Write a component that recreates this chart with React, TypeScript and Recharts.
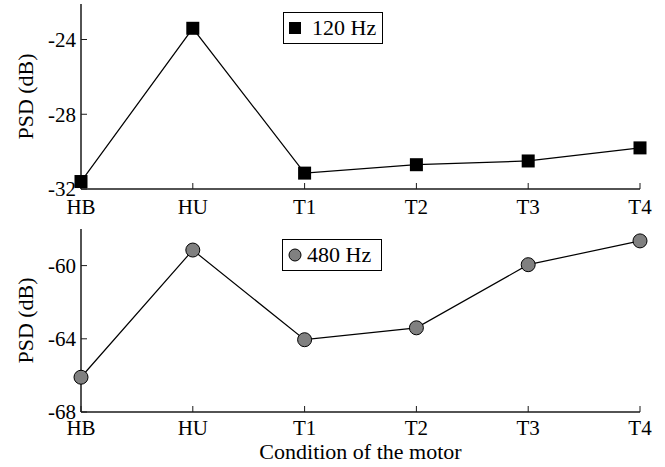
import { LineChart, Line, XAxis, YAxis, Legend } from 'recharts';

// motor condition vs PSD at the two harmonics
const conditions = ['HB', 'HU', 'T1', 'T2', 'T3', 'T4'];
const psd120 = [-31.6, -23.4, -31.15, -30.7, -30.5, -29.8];
const psd480 = [-66.1, -59.15, -64.05, -63.4, -59.95, -58.65];
const ticks120 = [-32, -28, -24];
const ticks480 = [-68, -64, -60];

const FONT = 'Liberation Serif';
const AX = '#1a1a1a';

const data120 = conditions.map((c, i) => ({ cond: c, psd: psd120[i] }));
const data480 = conditions.map((c, i) => ({ cond: c, psd: psd480[i] }));

const XTick = (p: any) => (
  <text
    x={p.x}
    y={p.y}
    dy="0.71em"
    textAnchor="middle"
    fontSize={21}
    fill="#000"
    style={{ fontFamily: FONT }}
  >
    {p.payload.value}
  </text>
);

const YTick = (p: any) => (
  <text
    x={p.x}
    y={p.y}
    dy="0.35em"
    textAnchor="end"
    fontSize={21}
    fill="#000"
    style={{ fontFamily: FONT }}
  >
    {p.payload.value}
  </text>
);

const yLabel = (props: any) => {
  const vb = props.viewBox || {};
  const cy = vb.y + vb.height / 2;
  return (
    <text
      x={25}
      y={cy}
      transform={`rotate(-90, 25, ${cy})`}
      textAnchor="middle"
      dominantBaseline="central"
      fontSize={22}
      fill="#000"
      style={{ fontFamily: FONT }}
    >
      PSD (dB)
    </text>
  );
};

const SquareDot = (p: any) => {
  if (p.cx == null || p.cy == null) return null;
  return <rect key={p.key ?? p.index} x={p.cx - 6.5} y={p.cy - 6.5} width={13} height={13} fill="#000" />;
};

function LegendBox({ label, kind }: { label: string; kind: 'square' | 'circle' }) {
  return (
    <div
      style={{
        boxSizing: 'border-box',
        width: 100,
        height: 32,
        border: '1.5px solid #000',
        background: '#fff',
        display: 'flex',
        alignItems: 'center',
        fontFamily: FONT,
        fontSize: 22,
        color: '#000',
        lineHeight: 1,
      }}
    >
      {kind === 'square' ? (
        <svg width={12} height={12} style={{ marginLeft: 5, marginRight: 11 }}>
          <rect x={0} y={0} width={12} height={12} fill="#000" />
        </svg>
      ) : (
        <svg width={14} height={14} style={{ marginLeft: 5, marginRight: 5 }}>
          <circle cx={7} cy={7} r={6} fill="#808080" stroke="#000" strokeWidth={1} />
        </svg>
      )}
      <span>{label}</span>
    </div>
  );
}

export default function App() {
  return (
    <div style={{ position: 'absolute', left: 0, top: 0, width: 665, height: 467, background: '#fff', fontFamily: FONT }}>
      <div style={{ position: 'absolute', left: 0, top: 0 }}>
        <LineChart width={665} height={224} data={data120} margin={{ top: 4, right: 25, bottom: 9, left: 21 }}>
          <XAxis
            xAxisId="b"
            dataKey="cond"
            scale="point"
            padding={{ left: 0, right: 0 }}
            height={26}
            tickSize={-6}
            tickMargin={16}
            tick={XTick}
            axisLine={{ stroke: AX, strokeWidth: 1.5 }}
            tickLine={{ stroke: AX }}
            interval={0}
          />
          <XAxis
            xAxisId="t"
            orientation="top"
            dataKey="cond"
            scale="point"
            padding={{ left: 0, right: 0 }}
            height={0}
            tickSize={-6}
            tick={false}
            axisLine={{ stroke: AX, strokeWidth: 1.5 }}
            tickLine={{ stroke: AX }}
            interval={0}
          />
          <YAxis
            yAxisId="l"
            width={60}
            domain={[-32, -22.1]}
            allowDataOverflow
            ticks={ticks120}
            tickSize={-6}
            tickMargin={11}
            tick={YTick}
            axisLine={{ stroke: AX, strokeWidth: 1.5 }}
            tickLine={{ stroke: AX }}
            label={yLabel}
          />
          <YAxis
            yAxisId="r"
            orientation="right"
            width={0}
            domain={[-32, -22.1]}
            allowDataOverflow
            ticks={ticks120}
            tickSize={-6}
            tick={false}
            axisLine={{ stroke: AX, strokeWidth: 1.5 }}
            tickLine={{ stroke: AX }}
          />
          <Legend
            layout="horizontal"
            verticalAlign="middle"
            align="center"
            wrapperStyle={{ position: 'absolute', left: 283, top: 12, width: 100, height: 32 }}
            content={() => <LegendBox label="120 Hz" kind="square" />}
          />
          <Line
            xAxisId="b"
            yAxisId="l"
            dataKey="psd"
            name="120 Hz"
            stroke="#000"
            strokeWidth={1.2}
            dot={SquareDot}
            activeDot={false}
            isAnimationActive={false}
          />
        </LineChart>
      </div>
      <div style={{ position: 'absolute', left: 0, top: 220 }}>
        <LineChart width={665} height={247} data={data480} margin={{ top: 9, right: 25, bottom: 0, left: 21 }}>
          <XAxis
            xAxisId="b"
            dataKey="cond"
            scale="point"
            padding={{ left: 0, right: 0 }}
            height={55}
            tickSize={-6}
            tickMargin={14}
            tick={XTick}
            axisLine={{ stroke: AX, strokeWidth: 1.5 }}
            tickLine={{ stroke: AX }}
            interval={0}
            label={{
              value: 'Condition of the motor',
              position: 'insideBottom',
              offset: 8,
              fill: '#000',
              fontSize: 22,
              style: { fontFamily: FONT },
            }}
          />
          <XAxis
            xAxisId="t"
            orientation="top"
            dataKey="cond"
            scale="point"
            padding={{ left: 0, right: 0 }}
            height={0}
            tickSize={-6}
            tick={false}
            axisLine={{ stroke: AX, strokeWidth: 1.5 }}
            tickLine={{ stroke: AX }}
            interval={0}
          />
          <YAxis
            yAxisId="l"
            width={60}
            domain={[-68, -58]}
            allowDataOverflow
            ticks={ticks480}
            tickSize={-6}
            tickMargin={11}
            tick={YTick}
            axisLine={{ stroke: AX, strokeWidth: 1.5 }}
            tickLine={{ stroke: AX }}
            label={yLabel}
          />
          <YAxis
            yAxisId="r"
            orientation="right"
            width={0}
            domain={[-68, -58]}
            allowDataOverflow
            ticks={ticks480}
            tickSize={-6}
            tick={false}
            axisLine={{ stroke: AX, strokeWidth: 1.5 }}
            tickLine={{ stroke: AX }}
          />
          <Legend
            layout="horizontal"
            verticalAlign="middle"
            align="center"
            wrapperStyle={{ position: 'absolute', left: 282, top: 19, width: 100, height: 32 }}
            content={() => <LegendBox label="480 Hz" kind="circle" />}
          />
          <Line
            xAxisId="b"
            yAxisId="l"
            dataKey="psd"
            name="480 Hz"
            stroke="#000"
            strokeWidth={1.2}
            dot={{ r: 7, fill: '#808080', stroke: '#000', strokeWidth: 1, fillOpacity: 1 }}
            activeDot={false}
            isAnimationActive={false}
          />
        </LineChart>
      </div>
    </div>
  );
}
